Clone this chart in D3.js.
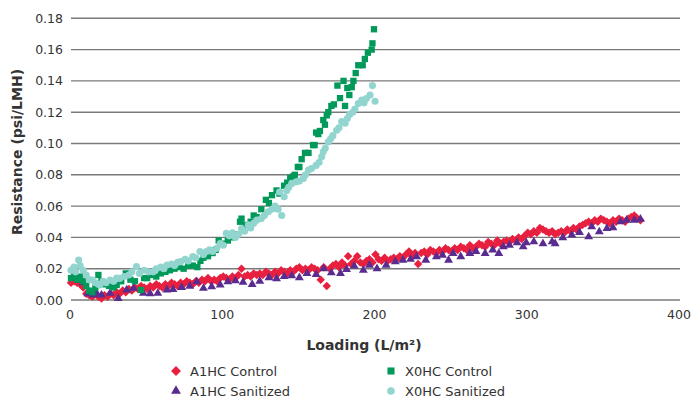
<!DOCTYPE html>
<html>
<head>
<meta charset="utf-8">
<script src="https://cdn.jsdelivr.net/npm/d3@7"></script>
<style>
  body { margin: 0; background: #fff; }
  text { font-family: "DejaVu Sans", Verdana, sans-serif; fill: #333; }
</style>
</head>
<body>
<script>
// chart size
var width = 693;
var height = 400;

// data: [loading L/m2, resistance psi/LMH]
var a1hcControl = [
  [0,0.011],[2,0.012],[4,0.011],[6,0.010],[8,0.008],[10,0.004],[12,0.003],[14,0.002],[16,0.004],[18,0.002],
  [20,0.001],[22,0.003],[24,0.002],[26,0.004],[28,0.003],[30,0.005],[32,0.004],[34,0.006],[36,0.005],[38,0.007],
  [40,0.006],[42,0.008],[44,0.007],[46,0.009],[48,0.008],[50,0.007],[52,0.009],[54,0.008],[56,0.010],[58,0.009],
  [60,0.008],[62,0.010],[64,0.009],[66,0.011],[68,0.010],[70,0.009],[72,0.011],[74,0.010],[76,0.012],[78,0.011],
  [80,0.010],[82,0.012],[84,0.011],[86,0.013],[88,0.012],[90,0.014],[92,0.012],[94,0.013],[96,0.012],[98,0.014],
  [100,0.015],[102,0.014],[104,0.013],[106,0.015],[108,0.014],[110,0.016],[112,0.020],[114,0.015],[116,0.016],[118,0.015],
  [120,0.017],[122,0.016],[124,0.017],[126,0.016],[128,0.018],[130,0.017],[132,0.016],[134,0.018],[136,0.017],[138,0.019],
  [140,0.018],[142,0.017],[144,0.019],[146,0.018],[148,0.020],[150,0.021],[152,0.019],[154,0.020],[156,0.019],[158,0.021],
  [160,0.020],[162,0.019],[164,0.013],[166,0.021],[168,0.009],[170,0.020],[172,0.022],[174,0.023],[176,0.021],[178,0.024],
  [180,0.022],[182,0.028],[184,0.023],[186,0.025],[188,0.028],[190,0.024],[192,0.023],[194,0.025],[196,0.026],[198,0.024],
  [200,0.029],[202,0.026],[204,0.025],[206,0.027],[208,0.025],[210,0.026],[212,0.027],[214,0.026],[216,0.028],[218,0.027],
  [220,0.029],[222,0.031],[224,0.028],[226,0.030],[228,0.023],[230,0.030],[232,0.031],[234,0.029],[236,0.032],[238,0.031],
  [240,0.030],[242,0.032],[244,0.031],[246,0.033],[248,0.032],[250,0.031],[252,0.033],[254,0.032],[256,0.034],[258,0.033],
  [260,0.032],[262,0.035],[264,0.033],[266,0.034],[268,0.036],[270,0.035],[272,0.034],[274,0.037],[276,0.036],[278,0.035],
  [280,0.038],[282,0.036],[284,0.037],[286,0.038],[288,0.037],[290,0.039],[292,0.038],[294,0.040],[296,0.039],[298,0.041],
  [300,0.043],[302,0.042],[304,0.044],[306,0.043],[308,0.046],[310,0.045],[312,0.044],[314,0.043],[316,0.044],[318,0.042],
  [320,0.043],[322,0.044],[324,0.043],[326,0.045],[328,0.044],[330,0.046],[332,0.045],[334,0.047],[336,0.048],[338,0.049],
  [340,0.050],[342,0.049],[344,0.051],[346,0.050],[348,0.052],[350,0.051],[352,0.050],[354,0.049],[356,0.051],[358,0.050],
  [360,0.052],[362,0.051],[364,0.050],[366,0.052],[368,0.053],[370,0.054],[372,0.052],[374,0.051]
];

var a1hcSanitized = [
  [5,0.0128],[8,0.011],[11,0.004],[14.6,0.0032],[17,0.004],[20,0.0032],[25.6,0.0043],[31,0.001],[36.6,0.0064],[41,0.0075],
  [47.5,0.0043],[52,0.004],[57,0.0043],[63,0.0064],[67,0.0068],[72.7,0.008],[78,0.0089],[82.6,0.0117],[87,0.0075],[92.4,0.0085],
  [98,0.0096],[103,0.0117],[108,0.0123],[113,0.0113],[119,0.010],[124,0.012],[130,0.0143],[135,0.0136],[140,0.015],[145,0.0155],
  [150,0.0143],[155,0.017],[161,0.0164],[166,0.020],[171,0.0174],[177,0.017],[181,0.0196],[186,0.0217],[192,0.019],[196,0.0223],
  [201,0.020],[207,0.0223],[213,0.0245],[218,0.0255],[223,0.026],[227,0.0277],[233,0.0255],[240,0.0277],[244,0.0287],[248,0.0255],
  [251,0.0298],[256,0.0277],[262,0.0298],[266,0.031],[272,0.0298],[277,0.032],[281,0.0298],[284,0.034],[288,0.035],[293,0.0366],
  [297,0.034],[299,0.0366],[304,0.0372],[310,0.036],[316,0.0372],[318,0.036],[323,0.0398],[329,0.0415],[334,0.0432],[340,0.0404],
  [342,0.0468],[347,0.0436],[352,0.0457],[356,0.0462],[361,0.050],[365,0.051],[370,0.051],[374,0.0517]
];

var x0hcControl = [
  [0,0.014],[2,0.016],[4,0.013],[6,0.015],[8,0.012],[10,0.009],[12,0.006],[14,0.005],[16,0.008],[18,0.016],
  [20,0.012],[22,0.010],[25,0.009],[28,0.008],[30,0.0096],[33,0.012],[36,0.017],[39,0.013],[42,0.012],[46,0.0064],
  [48,0.014],[50,0.014],[53,0.016],[56,0.015],[59,0.017],[62,0.018],[65,0.019],[68,0.020],[71,0.021],[74,0.020],
  [77,0.022],[80,0.022],[83,0.021],[85,0.025],[87,0.027],[90,0.028],[93,0.030],[95,0.032],[97,0.038],[100,0.036],
  [103,0.038],[106,0.040],[108,0.042],[111,0.050],[112,0.052],[115,0.048],[118,0.050],[120,0.054],[122,0.053],[125,0.058],
  [128,0.064],[130,0.062],[132,0.067],[135,0.070],[137,0.068],[140,0.073],[142,0.075],[144,0.078],[146,0.079],[147,0.080],
  [149,0.085],[150,0.085],[151.5,0.090],[153.7,0.094],[156,0.094],[159,0.099],[160,0.099],[161,0.107],[162.4,0.106],[163.5,0.108],
  [165.7,0.115],[166.8,0.112],[168,0.118],[169,0.120],[171,0.124],[172.7,0.125],[175,0.137],[176.7,0.129],[179,0.140],[180,0.124],
  [181.5,0.1355],[182.8,0.131],[184.4,0.136],[185.5,0.140],[187,0.145],[188.7,0.150],[191.6,0.150],[193,0.154],[195,0.158],[197.5,0.160],
  [198,0.164],[199,0.173]
];

var x0hcSanitized = [
  [0,0.019],[2,0.021],[3,0.018],[5,0.0255],[6,0.022],[8,0.019],[10,0.016],[12,0.013],[14,0.0128],[16,0.011],
  [18,0.010],[19,0.0096],[21,0.012],[23,0.011],[25.6,0.0128],[28,0.012],[30,0.014],[32,0.0138],[35,0.015],[38,0.016],
  [40,0.018],[43,0.0213],[45,0.017],[48,0.019],[51,0.018],[54,0.018],[56,0.020],[59,0.021],[61,0.020],[63,0.0223],
  [66,0.023],[68,0.022],[70,0.024],[72,0.0245],[75,0.026],[77,0.025],[80,0.0277],[82,0.027],[84.7,0.031],[87,0.029],
  [89,0.031],[91,0.032],[93,0.031],[95.7,0.033],[98,0.036],[100,0.035],[102,0.0426],[104,0.041],[106,0.043],[108,0.040],
  [110,0.042],[112,0.0457],[114,0.044],[116.5,0.048],[118,0.046],[120,0.049],[122,0.051],[125,0.052],[127,0.054],[129.6,0.0564],
  [132,0.058],[134,0.060],[136,0.058],[137,0.069],[138.4,0.054],[140,0.066],[141.7,0.070],[143,0.072],[145,0.0745],[148,0.0755],
  [150,0.076],[152.6,0.0777],[154,0.080],[156,0.083],[158,0.084],[161,0.086],[163,0.088],[164.6,0.0915],[165.7,0.0947],[167,0.097],
  [169,0.101],[170.5,0.103],[172,0.105],[174.5,0.1085],[176,0.110],[177.8,0.114],[180,0.113],[181.5,0.116],[183,0.1185],[185,0.120],
  [186.5,0.122],[188.7,0.1255],[191,0.1277],[192.5,0.126],[194,0.1287],[196.4,0.131],[198,0.137],[199.7,0.127]
];

var yTicks = [0, 0.02, 0.04, 0.06, 0.08, 0.10, 0.12, 0.14, 0.16, 0.18];
var xTicks = [0, 100, 200, 300, 400];

var seriesNames = ["A1HC Control", "A1HC Sanitized", "X0HC Control", "X0HC Sanitized"];
var seriesColors = ["#e8203f", "#5b2c90", "#00995a", "#92d5cf"];

var svg = d3.select("body").append("svg")
  .attr("width", width)
  .attr("height", height);

// plot area, in pixels
var x = d3.scaleLinear().domain([0, 400]).range([71, 680]);
var y = d3.scaleLinear().domain([0, 0.18]).range([300, 18.3]);

// horizontal gridlines
svg.append("g").selectAll("line")
  .data(yTicks)
  .enter().append("line")
  .attr("x1", x(0))
  .attr("x2", x(400))
  .attr("y1", function(d) { return y(d); })
  .attr("y2", function(d) { return y(d); })
  .style("stroke", "#7a7a7a")
  .style("stroke-width", 1.4);

// y tick labels
svg.append("g").selectAll("text")
  .data(yTicks)
  .enter().append("text")
  .attr("x", 63)
  .attr("y", function(d) { return y(d) + 4.5; })
  .attr("text-anchor", "end")
  .style("font-size", "12.5px")
  .text(function(d) { return d3.format(".2f")(d); });

// x tick labels
svg.append("g").selectAll("text")
  .data(xTicks)
  .enter().append("text")
  .attr("x", function(d) { return x(d) - 1; })
  .attr("y", 319)
  .attr("text-anchor", "middle")
  .style("font-size", "12.5px")
  .text(function(d) { return d; });

// axis titles
svg.append("text")
  .attr("transform", "translate(22,152) rotate(-90)")
  .attr("text-anchor", "middle")
  .style("font-size", "14px")
  .style("font-weight", "bold")
  .text("Resistance (psi/LMH)");

svg.append("text")
  .attr("x", 364)
  .attr("y", 350)
  .attr("text-anchor", "middle")
  .style("font-size", "14px")
  .style("font-weight", "bold")
  .text("Loading (L/m\u00b2)");

// marker shapes
var shapes = [
  d3.symbol().type(d3.symbolSquare).size(36),   // diamond = rotated square
  d3.symbol().type(d3.symbolTriangle).size(34),
  d3.symbol().type(d3.symbolSquare).size(40),
  d3.symbol().type(d3.symbolCircle).size(40)
];
var rotations = [45, 0, 0, 0];

function drawSeries(data, i) {
  svg.append("g").selectAll("path")
    .data(data)
    .enter().append("path")
    .attr("d", shapes[i]())
    .attr("transform", function(d) {
      return "translate(" + x(d[0]) + "," + y(d[1]) + ") rotate(" + rotations[i] + ")";
    })
    .style("fill", seriesColors[i]);
}

drawSeries(a1hcControl, 0);
drawSeries(a1hcSanitized, 1);
drawSeries(x0hcControl, 2);
drawSeries(x0hcSanitized, 3);

// legend
var legendShapes = [
  d3.symbol().type(d3.symbolSquare).size(50),
  d3.symbol().type(d3.symbolTriangle).size(42),
  d3.symbol().type(d3.symbolSquare).size(50),
  d3.symbol().type(d3.symbolCircle).size(46)
];
var legendPos = [[176, 371], [176, 391], [391, 371], [391, 391]];

var legend = svg.append("g").selectAll("g")
  .data(seriesNames)
  .enter().append("g")
  .attr("transform", function(d, i) { return "translate(" + legendPos[i][0] + "," + legendPos[i][1] + ")"; });

legend.append("path")
  .attr("d", function(d, i) { return legendShapes[i](); })
  .attr("transform", function(d, i) { return "rotate(" + rotations[i] + ")"; })
  .style("fill", function(d, i) { return seriesColors[i]; });

legend.append("text")
  .attr("x", 14)
  .attr("y", 4.5)
  .style("font-size", "13px")
  .text(function(d) { return d; });
</script>
</body>
</html>
